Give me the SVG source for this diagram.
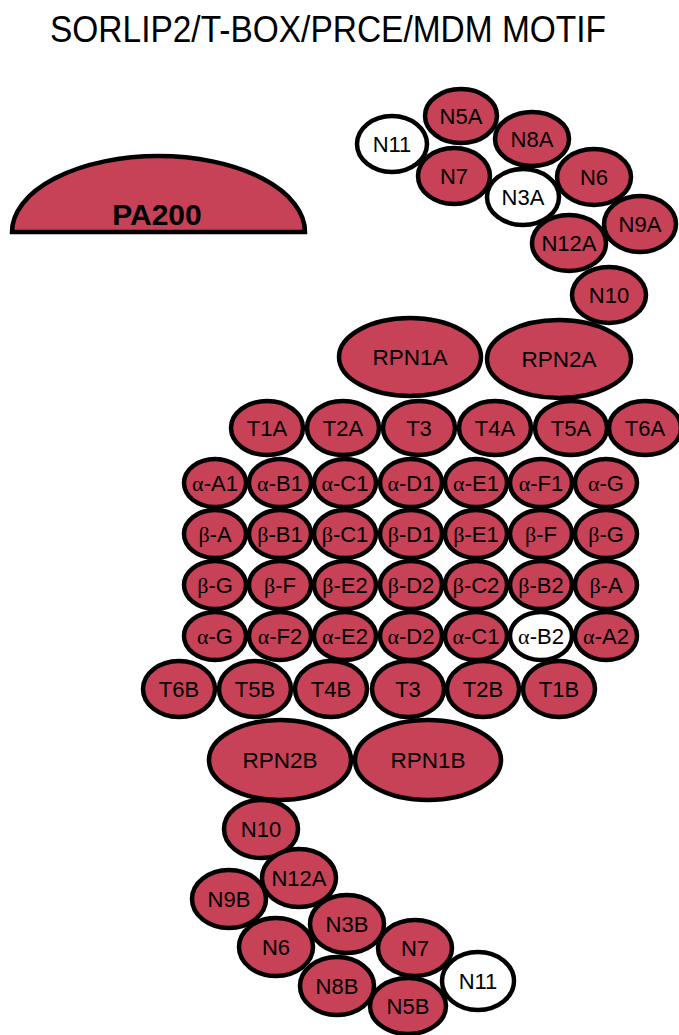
<svg xmlns="http://www.w3.org/2000/svg" width="679" height="1035" viewBox="0 0 679 1035">
<style>
.n{fill:#C74157;stroke:#000;stroke-width:4.5}
.w{fill:#fff;stroke:#000;stroke-width:4.5}
text{font-family:"Liberation Sans",Arial,sans-serif;font-size:22px;text-anchor:middle;fill:#000}
.big{font-size:22.5px}
.g{font-family:"Liberation Serif","Times New Roman",serif}
.title{font-size:36px}
.pa{font-size:30px;font-weight:bold}
</style>
<rect width="679" height="1035" fill="#fff"/>
<text class="title" x="328" y="42" textLength="556" lengthAdjust="spacingAndGlyphs">SORLIP2/T-BOX/PRCE/MDM MOTIF</text>
<g id="connectors"/>
<g id="PA200"><path class="n" d="M12,232 A146.5,76 0 0 1 305,232 Z"/><text class="pa" x="157" y="225">PA200</text></g>

<g id="top-N">
<g id="N11A"><ellipse class="w" cx="392" cy="144" rx="35" ry="28"/><text x="392" y="152">N11</text></g>
<g id="N5A"><ellipse class="n" cx="461" cy="116" rx="36" ry="27"/><text x="461" y="124">N5A</text></g>
<g id="N8A"><ellipse class="n" cx="532" cy="139" rx="37" ry="27"/><text x="532" y="147">N8A</text></g>
<g id="N7A"><ellipse class="n" cx="454" cy="176" rx="36" ry="28"/><text x="454" y="184">N7</text></g>
<g id="N3A"><ellipse class="w" cx="523" cy="197" rx="36" ry="28"/><text x="523" y="205">N3A</text></g>
<g id="N6A"><ellipse class="n" cx="594" cy="177" rx="37" ry="28"/><text x="594" y="185">N6</text></g>
<g id="N9A"><ellipse class="n" cx="640" cy="224" rx="36" ry="28"/><text x="640" y="232">N9A</text></g>
<g id="N12A-top"><ellipse class="n" cx="569" cy="243" rx="37" ry="28"/><text x="569" y="251">N12A</text></g>
<g id="N10A"><ellipse class="n" cx="609" cy="295" rx="37" ry="28"/><text x="609" y="303">N10</text></g>
</g>

<g id="RPN-A">
<g id="RPN1A"><ellipse class="n" cx="410" cy="357" rx="71" ry="39"/><text class="big" x="410" y="365">RPN1A</text></g>
<g id="RPN2A"><ellipse class="n" cx="559" cy="359" rx="72" ry="39"/><text class="big" x="559" y="367">RPN2A</text></g>
</g>

<g id="T-A">
<g id="T1A"><ellipse class="n" cx="267" cy="428" rx="36" ry="27"/><text x="267" y="436">T1A</text></g>
<g id="T2A"><ellipse class="n" cx="343" cy="428" rx="36" ry="27"/><text x="343" y="436">T2A</text></g>
<g id="T3A"><ellipse class="n" cx="419" cy="428" rx="36" ry="27"/><text x="419" y="436">T3</text></g>
<g id="T4A"><ellipse class="n" cx="495" cy="428" rx="36" ry="27"/><text x="495" y="436">T4A</text></g>
<g id="T5A"><ellipse class="n" cx="571" cy="428" rx="36" ry="27"/><text x="571" y="436">T5A</text></g>
<g id="T6A"><ellipse class="n" cx="645" cy="428" rx="36" ry="27"/><text x="645" y="436">T6A</text></g>
</g>

<g id="alpha1">
<g id="aA1"><ellipse class="n" cx="215" cy="483" rx="31" ry="24"/><text x="215" y="491"><tspan class="g">α</tspan>-A1</text></g>
<g id="aB1"><ellipse class="n" cx="280" cy="483" rx="31" ry="24"/><text x="280" y="491"><tspan class="g">α</tspan>-B1</text></g>
<g id="aC1"><ellipse class="n" cx="345" cy="483" rx="31" ry="24"/><text x="345" y="491"><tspan class="g">α</tspan>-C1</text></g>
<g id="aD1"><ellipse class="n" cx="411" cy="483" rx="31" ry="24"/><text x="411" y="491"><tspan class="g">α</tspan>-D1</text></g>
<g id="aE1"><ellipse class="n" cx="476" cy="483" rx="31" ry="24"/><text x="476" y="491"><tspan class="g">α</tspan>-E1</text></g>
<g id="aF1"><ellipse class="n" cx="541" cy="483" rx="31" ry="24"/><text x="541" y="491"><tspan class="g">α</tspan>-F1</text></g>
<g id="aG1"><ellipse class="n" cx="606" cy="483" rx="31" ry="24"/><text x="606" y="491"><tspan class="g">α</tspan>-G</text></g>
</g>

<g id="beta1">
<g id="bA1"><ellipse class="n" cx="215" cy="534" rx="31" ry="24"/><text x="215" y="542"><tspan class="g">β</tspan>-A</text></g>
<g id="bB1"><ellipse class="n" cx="280" cy="534" rx="31" ry="24"/><text x="280" y="542"><tspan class="g">β</tspan>-B1</text></g>
<g id="bC1"><ellipse class="n" cx="345" cy="534" rx="31" ry="24"/><text x="345" y="542"><tspan class="g">β</tspan>-C1</text></g>
<g id="bD1"><ellipse class="n" cx="411" cy="534" rx="31" ry="24"/><text x="411" y="542"><tspan class="g">β</tspan>-D1</text></g>
<g id="bE1"><ellipse class="n" cx="476" cy="534" rx="31" ry="24"/><text x="476" y="542"><tspan class="g">β</tspan>-E1</text></g>
<g id="bF1"><ellipse class="n" cx="541" cy="534" rx="31" ry="24"/><text x="541" y="542"><tspan class="g">β</tspan>-F</text></g>
<g id="bG1"><ellipse class="n" cx="606" cy="534" rx="31" ry="24"/><text x="606" y="542"><tspan class="g">β</tspan>-G</text></g>
</g>

<g id="beta2">
<g id="bG2"><ellipse class="n" cx="215" cy="585" rx="31" ry="24"/><text x="215" y="593"><tspan class="g">β</tspan>-G</text></g>
<g id="bF2"><ellipse class="n" cx="280" cy="585" rx="31" ry="24"/><text x="280" y="593"><tspan class="g">β</tspan>-F</text></g>
<g id="bE2"><ellipse class="n" cx="345" cy="585" rx="31" ry="24"/><text x="345" y="593"><tspan class="g">β</tspan>-E2</text></g>
<g id="bD2"><ellipse class="n" cx="411" cy="585" rx="31" ry="24"/><text x="411" y="593"><tspan class="g">β</tspan>-D2</text></g>
<g id="bC2"><ellipse class="n" cx="476" cy="585" rx="31" ry="24"/><text x="476" y="593"><tspan class="g">β</tspan>-C2</text></g>
<g id="bB2"><ellipse class="n" cx="541" cy="585" rx="31" ry="24"/><text x="541" y="593"><tspan class="g">β</tspan>-B2</text></g>
<g id="bA2"><ellipse class="n" cx="606" cy="585" rx="31" ry="24"/><text x="606" y="593"><tspan class="g">β</tspan>-A</text></g>
</g>

<g id="alpha2">
<g id="aG2"><ellipse class="n" cx="215" cy="636" rx="31" ry="24"/><text x="215" y="644"><tspan class="g">α</tspan>-G</text></g>
<g id="aF2"><ellipse class="n" cx="280" cy="636" rx="31" ry="24"/><text x="280" y="644"><tspan class="g">α</tspan>-F2</text></g>
<g id="aE2"><ellipse class="n" cx="345" cy="636" rx="31" ry="24"/><text x="345" y="644"><tspan class="g">α</tspan>-E2</text></g>
<g id="aD2"><ellipse class="n" cx="411" cy="636" rx="31" ry="24"/><text x="411" y="644"><tspan class="g">α</tspan>-D2</text></g>
<g id="aC2"><ellipse class="n" cx="476" cy="636" rx="31" ry="24"/><text x="476" y="644"><tspan class="g">α</tspan>-C1</text></g>
<g id="aB2"><ellipse class="w" cx="541" cy="636" rx="31" ry="24"/><text x="541" y="644"><tspan class="g">α</tspan>-B2</text></g>
<g id="aA2"><ellipse class="n" cx="606" cy="636" rx="31" ry="24"/><text x="606" y="644"><tspan class="g">α</tspan>-A2</text></g>
</g>

<g id="T-B">
<g id="T6B"><ellipse class="n" cx="179" cy="689" rx="36" ry="28"/><text x="179" y="697">T6B</text></g>
<g id="T5B"><ellipse class="n" cx="255" cy="689" rx="36" ry="28"/><text x="255" y="697">T5B</text></g>
<g id="T4B"><ellipse class="n" cx="331" cy="689" rx="36" ry="28"/><text x="331" y="697">T4B</text></g>
<g id="T3B"><ellipse class="n" cx="408" cy="689" rx="36" ry="28"/><text x="408" y="697">T3</text></g>
<g id="T2B"><ellipse class="n" cx="483" cy="689" rx="36" ry="28"/><text x="483" y="697">T2B</text></g>
<g id="T1B"><ellipse class="n" cx="559" cy="689" rx="36" ry="28"/><text x="559" y="697">T1B</text></g>
</g>

<g id="RPN-B">
<g id="RPN2B"><ellipse class="n" cx="280" cy="760" rx="71" ry="40"/><text class="big" x="280" y="768">RPN2B</text></g>
<g id="RPN1B"><ellipse class="n" cx="428" cy="760" rx="73" ry="40"/><text class="big" x="428" y="768">RPN1B</text></g>
</g>

<g id="bottom-N">
<g id="N10B"><ellipse class="n" cx="261" cy="829" rx="37" ry="29"/><text x="261" y="837">N10</text></g>
<g id="N12A-bottom"><ellipse class="n" cx="299" cy="878" rx="37" ry="29"/><text x="299" y="886">N12A</text></g>
<g id="N9B"><ellipse class="n" cx="229" cy="899" rx="37" ry="29"/><text x="229" y="907">N9B</text></g>
<g id="N3B"><ellipse class="n" cx="347" cy="924" rx="37" ry="29"/><text x="347" y="932">N3B</text></g>
<g id="N6B"><ellipse class="n" cx="276" cy="947" rx="37" ry="29"/><text x="276" y="955">N6</text></g>
<g id="N7B"><ellipse class="n" cx="415" cy="948" rx="37" ry="28"/><text x="415" y="956">N7</text></g>
<g id="N8B"><ellipse class="n" cx="337" cy="986" rx="37" ry="29"/><text x="337" y="994">N8B</text></g>
<g id="N11B"><ellipse class="w" cx="478" cy="981" rx="36" ry="29"/><text x="478" y="989">N11</text></g>
<g id="N5B"><ellipse class="n" cx="408" cy="1006" rx="38" ry="28"/><text x="408" y="1014">N5B</text></g>
</g>
</svg>
